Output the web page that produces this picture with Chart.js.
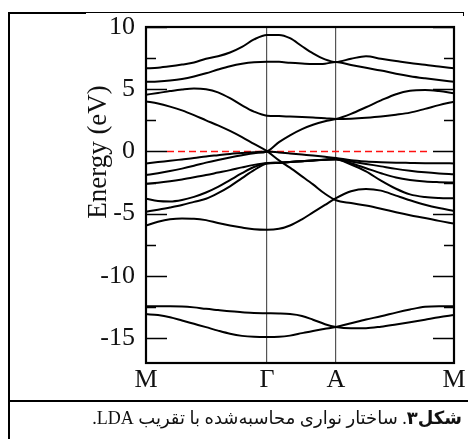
<!DOCTYPE html>
<html>
<head>
<meta charset="utf-8">
<script src="https://cdn.jsdelivr.net/npm/chart.js@4/dist/chart.umd.min.js"></script>
<style>
  html, body { margin: 0; padding: 0; background: #fff; }
  #fig { position: relative; width: 468px; height: 439px; overflow: hidden; background: #fff; }
  #plot { position: absolute; left: 0; top: 0; }
  .rule { position: absolute; background: #000; }
  #caption {
    position: absolute; right: 6px; top: 405px; white-space: nowrap;
    font-family: "Liberation Serif", "DejaVu Sans", serif; font-size: 18px; color: #111;
    direction: rtl; line-height: 26px;
  }
</style>
</head>
<body>
<div id="fig">
  <canvas id="plot" width="468" height="400"></canvas>
  <div class="rule" style="left:8px;top:12px;width:78px;height:2px"></div>
  <div class="rule" style="left:85px;top:12px;width:379px;height:1px"></div>
  <div class="rule" style="left:463px;top:12px;width:1px;height:4px"></div>
  <div class="rule" style="left:8px;top:12px;width:2px;height:427px"></div>
  <div class="rule" style="left:8px;top:400px;width:460px;height:2px"></div>
  <div id="caption"><b>شکل۳</b>. ساختار نواری محاسبه‌شده با تقریب LDA.</div>
</div>
<script>
// k-path M – Γ – A – M (arbitrary path length units)
const kTicks  = [0, 1.21, 1.90, 3.08];
const kLabels = ['M', 'Γ', 'A', 'M'];
const kGrid = [0, 0.12, 0.24, 0.36, 0.48, 0.60, 0.72, 0.84, 0.96, 1.08, 1.21,
               1.33, 1.44, 1.56, 1.67, 1.79, 1.90,
               2.05, 2.20, 2.35, 2.50, 2.64, 2.79, 2.93, 3.08];

// Energy axis (eV)
const yMajor = [-15, -10, -5, 0, 5, 10];
const yMinor = [-12.5, -7.5, -2.5, 2.5, 7.5];
const fermiLevel = 0;

// LDA bands, energies in eV on kGrid
const cond1 = [6.68, 6.73, 6.84, 6.98, 7.15, 7.45, 7.65, 7.95, 8.4, 9.0, 9.36, 9.36, 9.1, 8.45, 7.88, 7.4, 7.19, 7.45, 7.65, 7.45, 7.27, 7.1, 6.97, 6.82, 6.68];
const cond2 = [5.6, 5.63, 5.7, 5.82, 6.02, 6.28, 6.58, 6.85, 7.05, 7.17, 7.2, 7.2, 7.12, 7.06, 7.02, 7.05, 7.19, 6.95, 6.72, 6.5, 6.25, 6.05, 5.88, 5.74, 5.6];
const cond3 = [4.56, 4.7, 4.85, 4.98, 5.06, 5.0, 4.75, 4.28, 3.7, 3.2, 2.87, 2.84, 2.8, 2.76, 2.72, 2.67, 2.6, 2.63, 2.7, 2.8, 2.95, 3.12, 3.42, 3.72, 4.0];
const cond4 = [4.02, 3.85, 3.6, 3.3, 2.92, 2.5, 2.1, 1.65, 1.15, 0.6, 0.02, -0.72, -1.3, -2.0, -2.65, -3.4, -3.92, -4.15, -4.35, -4.6, -4.88, -5.12, -5.35, -5.58, -5.8];
const val1  = [-1.9, -1.75, -1.58, -1.38, -1.15, -0.9, -0.68, -0.48, -0.3, -0.14, 0.0, 0.75, 1.3, 1.8, 2.15, 2.42, 2.6, 3.02, 3.55, 4.1, 4.6, 4.88, 4.94, 4.85, 4.67];
const val2  = [-0.96, -0.85, -0.75, -0.64, -0.53, -0.4, -0.3, -0.2, -0.13, -0.06, 0.0, -0.08, -0.16, -0.25, -0.33, -0.43, -0.52, -0.7, -0.8, -0.86, -0.9, -0.92, -0.94, -0.95, -0.96];
const val3  = [-2.6, -2.52, -2.4, -2.25, -2.08, -1.9, -1.7, -1.5, -1.28, -1.08, -0.93, -0.9, -0.84, -0.78, -0.72, -0.66, -0.6, -0.8, -1.0, -1.2, -1.4, -1.55, -1.68, -1.77, -1.84];
const val4  = [-3.8, -3.98, -4.02, -3.9, -3.65, -3.3, -2.85, -2.3, -1.75, -1.25, -0.95, -0.9, -0.84, -0.78, -0.72, -0.66, -0.62, -0.95, -1.35, -1.75, -2.1, -2.3, -2.42, -2.47, -2.5];
const val5  = [-4.85, -4.68, -4.5, -4.3, -4.05, -3.8, -3.35, -2.8, -2.15, -1.5, -0.98, -0.92, -0.85, -0.79, -0.73, -0.67, -0.64, -1.05, -1.6, -2.35, -3.0, -3.45, -3.66, -3.74, -3.77];
const val6  = [-5.95, -5.65, -5.45, -5.38, -5.4, -5.52, -5.75, -5.95, -6.12, -6.26, -6.3, -6.22, -5.95, -5.45, -4.9, -4.3, -3.75, -3.2, -3.02, -3.15, -3.55, -3.92, -4.28, -4.55, -4.78];
const semi1 = [-12.43, -12.43, -12.43, -12.45, -12.53, -12.65, -12.75, -12.85, -12.92, -12.98, -13.0, -13.02, -13.07, -13.22, -13.52, -13.88, -14.1, -14.2, -14.2, -14.08, -13.9, -13.72, -13.52, -13.33, -13.15];
const semi2 = [-13.07, -13.15, -13.32, -13.58, -13.85, -14.12, -14.4, -14.65, -14.82, -14.9, -14.92, -14.9, -14.8, -14.6, -14.42, -14.25, -14.1, -13.8, -13.5, -13.25, -12.95, -12.7, -12.48, -12.43, -12.43];

const bands = [cond1, cond2, cond3, cond4, val1, val2, val3, val4, val5, val6, semi1, semi2];

const SERIF = '"Liberation Serif", "Times New Roman", serif';
const MAJOR_LEN = 21, MINOR_LEN = 10;

// frame, inward tick marks, Fermi level and the energy axis title
const bandFrame = {
  id: 'bandFrame',
  beforeDatasetsDraw(chart) {
    const { ctx, chartArea: a, scales: { y } } = chart;
    const yf = Math.round(y.getPixelForValue(fermiLevel)) + 0.5;
    ctx.save();
    ctx.strokeStyle = '#ff1010';
    ctx.lineWidth = 1.6;
    ctx.setLineDash([7, 4]);
    ctx.beginPath();
    ctx.moveTo(a.left + MAJOR_LEN, yf);
    ctx.lineTo(a.right - MAJOR_LEN - 2, yf);
    ctx.stroke();
    ctx.restore();
  },
  afterDatasetsDraw(chart) {
    const { ctx, chartArea: a, scales: { y } } = chart;
    ctx.save();
    ctx.strokeStyle = '#000';
    ctx.lineWidth = 1.5;
    const tick = (v, len) => {
      const py = Math.round(y.getPixelForValue(v)) + 0.5;
      ctx.beginPath();
      ctx.moveTo(a.left, py); ctx.lineTo(a.left + len, py);
      ctx.moveTo(a.right, py); ctx.lineTo(a.right - len, py);
      ctx.stroke();
    };
    yMajor.forEach(v => tick(v, MAJOR_LEN));
    yMinor.forEach(v => tick(v, MINOR_LEN));
    ctx.lineWidth = 2.2;
    ctx.strokeRect(a.left, a.top, a.right - a.left, a.bottom - a.top);
    ctx.restore();
  },
  afterDraw(chart) {
    const { ctx, chartArea: a } = chart;
    ctx.save();
    ctx.translate(a.left - 40, 152);
    ctx.rotate(-Math.PI / 2);
    ctx.font = '27px ' + SERIF;
    ctx.fillStyle = '#111';
    ctx.textAlign = 'center';
    ctx.textBaseline = 'alphabetic';
    ctx.fillText('Energy (eV)', 0, 0);
    ctx.restore();
  }
};

new Chart(document.getElementById('plot'), {
  type: 'scatter',
  data: {
    datasets: bands.map(b => ({
      data: kGrid.map((k, i) => ({ x: k, y: b[i] })),
      showLine: true,
      borderColor: '#000',
      borderWidth: 2,
      pointRadius: 0,
      cubicInterpolationMode: 'monotone',
      fill: false
    }))
  },
  options: {
    responsive: false,
    animation: false,
    layout: { padding: { top: 27, right: 14, left: 0, bottom: 0 } },
    plugins: { legend: { display: false }, tooltip: { enabled: false } },
    scales: {
      x: {
        type: 'linear', min: kTicks[0], max: kTicks[kTicks.length - 1],
        afterBuildTicks: s => { s.ticks = kTicks.map(v => ({ value: v })); },
        afterFit: s => { s.height = 37; },
        ticks: {
          callback: (v, i) => kLabels[i],
          font: { family: SERIF, size: 26 }, color: '#111',
          padding: 2, maxRotation: 0, autoSkip: false
        },
        grid: {
          color: c => (c.index === 1 || c.index === 2) ? '#555' : 'rgba(0,0,0,0)',
          lineWidth: 1.2, drawTicks: false
        },
        border: { display: false }
      },
      y: {
        type: 'linear', min: -17, max: 10,
        afterBuildTicks: s => { s.ticks = yMajor.map(v => ({ value: v })); },
        afterFit: s => { s.width = 146; },
        ticks: {
          callback: v => String(v),
          font: { family: SERIF, size: 26 }, color: '#111', padding: 11
        },
        grid: { display: false, drawTicks: false },
        border: { display: false }
      }
    }
  },
  plugins: [bandFrame]
});
</script>
</body>
</html>
